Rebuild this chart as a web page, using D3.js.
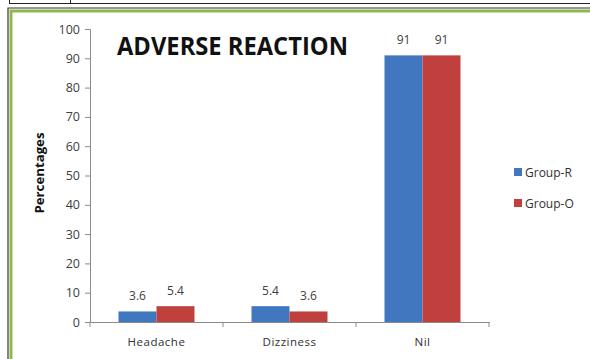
<!DOCTYPE html>
<html>
<head>
<meta charset="utf-8">
<script src="https://cdn.jsdelivr.net/npm/d3@7"></script>
<style>
  html, body { margin: 0; padding: 0; background: #fff; }
  svg { display: block; }
</style>
</head>
<body>
<svg id="chart" width="590" height="359"></svg>
<script>
// Adverse reaction percentages per group
const categories = ["Headache", "Dizziness", "Nil"];
const seriesNames = ["Group-R", "Group-O"];
const groupR = [3.6, 5.4, 91];
const groupO = [5.4, 3.6, 91];
const yTicks = [0, 10, 20, 30, 40, 50, 60, 70, 80, 90, 100];
const colors = ["#4077bf", "#c0403d"];

const svg = d3.select("#chart");
const W = 590, H = 359;

// page frame: document table lines and green chart border
svg.append("line").attr("x1", 9).attr("x2", W).attr("y1", 3.5).attr("y2", 3.5)
  .attr("stroke", "#222").attr("stroke-width", 1);
svg.append("line").attr("x1", 9.5).attr("x2", 9.5).attr("y1", 0).attr("y2", 4)
  .attr("stroke", "#222").attr("stroke-width", 1);
svg.append("line").attr("x1", 70.5).attr("x2", 70.5).attr("y1", 0).attr("y2", 4)
  .attr("stroke", "#222").attr("stroke-width", 1);
svg.append("path").attr("d", `M8,${H} V8 H${W}`)
  .attr("fill", "none").attr("stroke", "#333").attr("stroke-width", 1.2);
svg.append("path").attr("d", `M11,${H} V11 H${W}`)
  .attr("fill", "none").attr("stroke", "#8fb84e").attr("stroke-width", 3);

const plot = { left: 90, right: 489, top: 29, bottom: 322 };

const x0 = d3.scaleBand().domain(categories).range([plot.left, plot.right]).paddingInner(0).paddingOuter(0);
const x1 = d3.scaleBand().domain(seriesNames).range([0, x0.bandwidth()]).paddingInner(0).paddingOuter(0.75);
const y = d3.scaleLinear().domain([0, 100]).range([plot.bottom, plot.top]);

const axisColor = "#8a8a8a";
const labelFont = "'Open Sans', 'Noto Sans', sans-serif";

// y axis
const yAxis = svg.append("g").attr("transform", `translate(${plot.left},0)`)
  .call(d3.axisLeft(y).tickValues(yTicks).tickSize(5).tickPadding(5));
yAxis.select(".domain").attr("stroke", axisColor);
yAxis.selectAll(".tick line").attr("stroke", axisColor);
yAxis.selectAll(".tick text").attr("fill", "#404040")
  .style("font-family", labelFont).style("font-size", "12.5px");

// x axis
const xAxis = svg.append("g").attr("transform", `translate(0,${plot.bottom})`)
  .call(d3.axisBottom(x0).tickSize(0).tickPadding(16));
xAxis.select(".domain").attr("stroke", axisColor);
xAxis.selectAll(".tick text").attr("fill", "#303030")
  .style("font-family", labelFont).style("font-size", "11.5px").style("letter-spacing", "0.5px");
// category boundary ticks
const bounds = [plot.left].concat(categories.map(c => x0(c) + x0.bandwidth()));
xAxis.selectAll("line.bound").data(bounds).enter().append("line")
  .attr("class", "bound")
  .attr("x1", d => d).attr("x2", d => d).attr("y1", 0).attr("y2", 5)
  .attr("stroke", axisColor);

// bars
const rows = categories.map((c, i) => ({ cat: c, vals: [groupR[i], groupO[i]] }));
const groups = svg.append("g").selectAll("g").data(rows).enter().append("g")
  .attr("transform", d => `translate(${x0(d.cat)},0)`);
groups.selectAll("rect").data(d => d.vals.map((v, j) => ({ name: seriesNames[j], v, j })))
  .enter().append("rect")
  .attr("x", d => x1(d.name))
  .attr("width", x1.bandwidth())
  .attr("y", d => y(d.v))
  .attr("height", d => y(0) - y(d.v))
  .attr("fill", d => colors[d.j]);

// value labels
groups.selectAll("text").data(d => d.vals.map((v, j) => ({ name: seriesNames[j], v, j })))
  .enter().append("text")
  .attr("x", d => x1(d.name) + x1.bandwidth() / 2)
  .attr("y", d => y(d.v) - 11)
  .attr("text-anchor", "middle")
  .attr("fill", "#404040")
  .style("font-family", labelFont).style("font-size", "12px")
  .text(d => d.v);

// title
svg.append("text")
  .attr("x", 117).attr("y", 55)
  .attr("textLength", 231).attr("lengthAdjust", "spacingAndGlyphs")
  .style("font-family", "'Open Sans', 'Liberation Sans', sans-serif")
  .style("font-weight", "bold").style("font-size", "25px")
  .attr("fill", "#111")
  .text("ADVERSE REACTION");

// y axis title
svg.append("text")
  .attr("transform", "translate(44,173) rotate(-90)")
  .attr("text-anchor", "middle")
  .attr("textLength", 81).attr("lengthAdjust", "spacingAndGlyphs")
  .style("font-family", "'Open Sans', 'Liberation Sans', sans-serif")
  .style("font-weight", "bold").style("font-size", "12px")
  .attr("fill", "#111")
  .text("Percentages");

// legend
const legend = svg.append("g").selectAll("g").data(seriesNames).enter().append("g")
  .attr("transform", (d, i) => `translate(514,${168 + i * 31})`);
legend.append("rect").attr("width", 8).attr("height", 8).attr("fill", (d, i) => colors[i]);
legend.append("text").attr("x", 11).attr("y", 8.5)
  .attr("fill", "#303030")
  .style("font-family", labelFont).style("font-size", "12px")
  .text(d => d);
</script>
</body>
</html>
